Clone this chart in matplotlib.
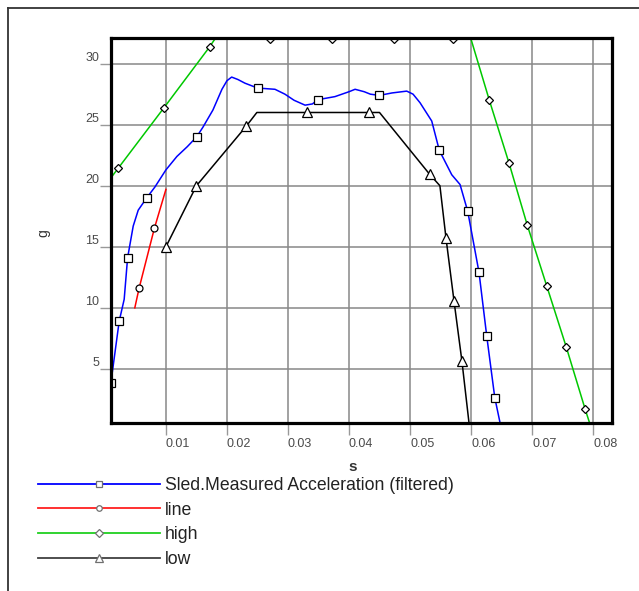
#!/usr/bin/env python3
"""Sled acceleration vs. corridor limits, redrawn with matplotlib."""

import matplotlib

matplotlib.use("Agg")
import matplotlib.pyplot as plt
from matplotlib.lines import Line2D

plt.rcParams["font.family"] = ["Liberation Sans", "DejaVu Sans"]

# Sled.Measured Acceleration (filtered)
sled_t = [0.00098, 0.00234, 0.00316, 0.00372, 0.00464, 0.00546, 0.00684, 0.0082,
          0.0100, 0.0118, 0.0135, 0.01503, 0.01607, 0.0177, 0.01918, 0.0200,
          0.02077, 0.0218, 0.02295, 0.02503, 0.02787, 0.0295, 0.0310, 0.0328,
          0.0340, 0.03492, 0.0377, 0.0400, 0.0410, 0.0425, 0.0435, 0.04497,
          0.04705, 0.04946, 0.0505, 0.05164, 0.05356, 0.0548, 0.05684, 0.0582,
          0.05946, 0.06131, 0.06257, 0.06389, 0.0650]
sled_g = [3.85, 8.9, 10.7, 14.1, 16.7, 18.0, 19.0, 19.9,
          21.3, 22.4, 23.2, 24.0, 24.8, 26.2, 27.9, 28.6,
          28.9, 28.7, 28.4, 28.0, 27.9, 27.5, 27.0, 26.6,
          26.7, 27.05, 27.3, 27.7, 27.9, 27.7, 27.5, 27.4,
          27.6, 27.75, 27.5, 26.8, 25.3, 22.9, 20.9, 20.1,
          17.9, 12.9, 7.7, 2.65, 0.0]
sled_marks = [0, 1, 3, 6, 11, 19, 25, 31, 37, 40, 41, 42, 43]

# line
line_t = [0.0049, 0.0056, 0.0081, 0.0100]
line_g = [10.0, 11.6, 16.5, 19.7]
line_marks = [1, 2]

# high
high_t = [0.0, 0.0022, 0.0097, 0.0172, 0.0180, 0.0270, 0.0372, 0.0473, 0.0571,
          0.0600, 0.0630, 0.0662, 0.0692, 0.0724, 0.0756, 0.0787, 0.0798]
high_g = [20.0, 21.45, 26.4, 31.4, 32.0, 32.0, 32.0, 32.0, 32.0,
          32.0, 27.0, 21.9, 16.8, 11.8, 6.8, 1.7, 0.0]
high_marks = [1, 2, 3, 5, 6, 7, 8, 10, 11, 12, 13, 14, 15]

# low
low_t = [0.0100, 0.0150, 0.0232, 0.0249, 0.0332, 0.0432, 0.0450, 0.0532,
         0.0549, 0.0559, 0.0572, 0.0585, 0.0598]
low_g = [15.0, 20.0, 24.9, 26.0, 26.0, 26.0, 26.0, 20.95,
         20.0, 15.7, 10.6, 5.66, 0.0]
low_marks = [0, 1, 2, 4, 5, 7, 9, 10, 11]

x_ticks = [0.01, 0.02, 0.03, 0.04, 0.05, 0.06, 0.07, 0.08]
x_tick_labels = ["0.01", "0.02", "0.03", "0.04", "0.05", "0.06", "0.07", "0.08"]
y_ticks = [5, 10, 15, 20, 25, 30]
y_tick_labels = ["5", "10", "15", "20", "25", "30"]

series = [
    ("Sled.Measured Acceleration (filtered)", sled_t, sled_g, sled_marks, "#0000ff", "#0000ff", "s", 5.5),
    ("line", line_t, line_g, line_marks, "#ff0000", "#ff2020", "o", 5),
    ("high", high_t, high_g, high_marks, "#00c800", "#20d020", "D", 4.5),
    ("low", low_t, low_g, low_marks, "#000000", "#404040", "^", 6.5),
]

fig = plt.figure(figsize=(6.39, 5.91), dpi=100)
ax = fig.add_axes([111 / 639, 1 - 423 / 591, 501 / 639, 385 / 591])

handles = []
for label, t, g, marks, color, leg_color, marker, size in series:
    ax.plot(t, g, color=color, lw=1.1, marker=marker, markevery=marks,
            markersize=size, markerfacecolor="white", markeredgecolor="black",
            markeredgewidth=0.9, zorder=3)
    handles.append(Line2D([], [], color=leg_color, lw=1.3, marker=marker,
                          markersize=size * 0.8, markerfacecolor="white",
                          markeredgecolor="#707070", markeredgewidth=0.9))

ax.set_xlim(0.001, 0.0831)
ax.set_ylim(0.57, 32.1)
ax.set_xticks(x_ticks)
ax.set_xticklabels(x_tick_labels)
ax.set_yticks(y_ticks)
ax.set_yticklabels(y_tick_labels)
ax.grid(True, color="#888888", lw=1.1, zorder=1)
ax.set_axisbelow(True)

ax.tick_params(axis="both", direction="out", color="#999999", width=1.0,
               labelsize=9, labelcolor="#4a4a4a")
ax.tick_params(axis="x", length=8.5, pad=2)
ax.tick_params(axis="y", length=8, pad=0.5)
for lab in ax.get_xticklabels():
    lab.set_horizontalalignment("left")
for lab in ax.get_yticklabels():
    lab.set_verticalalignment("bottom")

for spine in ax.spines.values():
    spine.set_linewidth(2.3)
    spine.set_color("black")
    spine.set_zorder(5)

ax.set_xlabel("s", fontsize=11, fontweight="bold", color="#333333")
ax.xaxis.set_label_coords(0.483, -0.096)
ax.set_ylabel("g", fontsize=10, color="#333333")
ax.yaxis.set_label_coords(-0.122, 0.494)

fig.legend(handles, [s[0] for s in series], loc="upper left",
           bbox_to_anchor=(38 / 639, 1 - 477 / 591), frameon=False,
           fontsize=12.7, handlelength=6.9, handletextpad=0.3,
           labelspacing=0.43, borderaxespad=0, borderpad=0,
           labelcolor="#222222")

# outer frame
fig.add_artist(Line2D([8 / 639, 8 / 639], [1 - 8 / 591, 0], color="#333333", lw=1.3))
fig.add_artist(Line2D([8 / 639, 1], [1 - 8 / 591, 1 - 8 / 591], color="#333333", lw=1.3))

fig.savefig("out.png", dpi=100)
